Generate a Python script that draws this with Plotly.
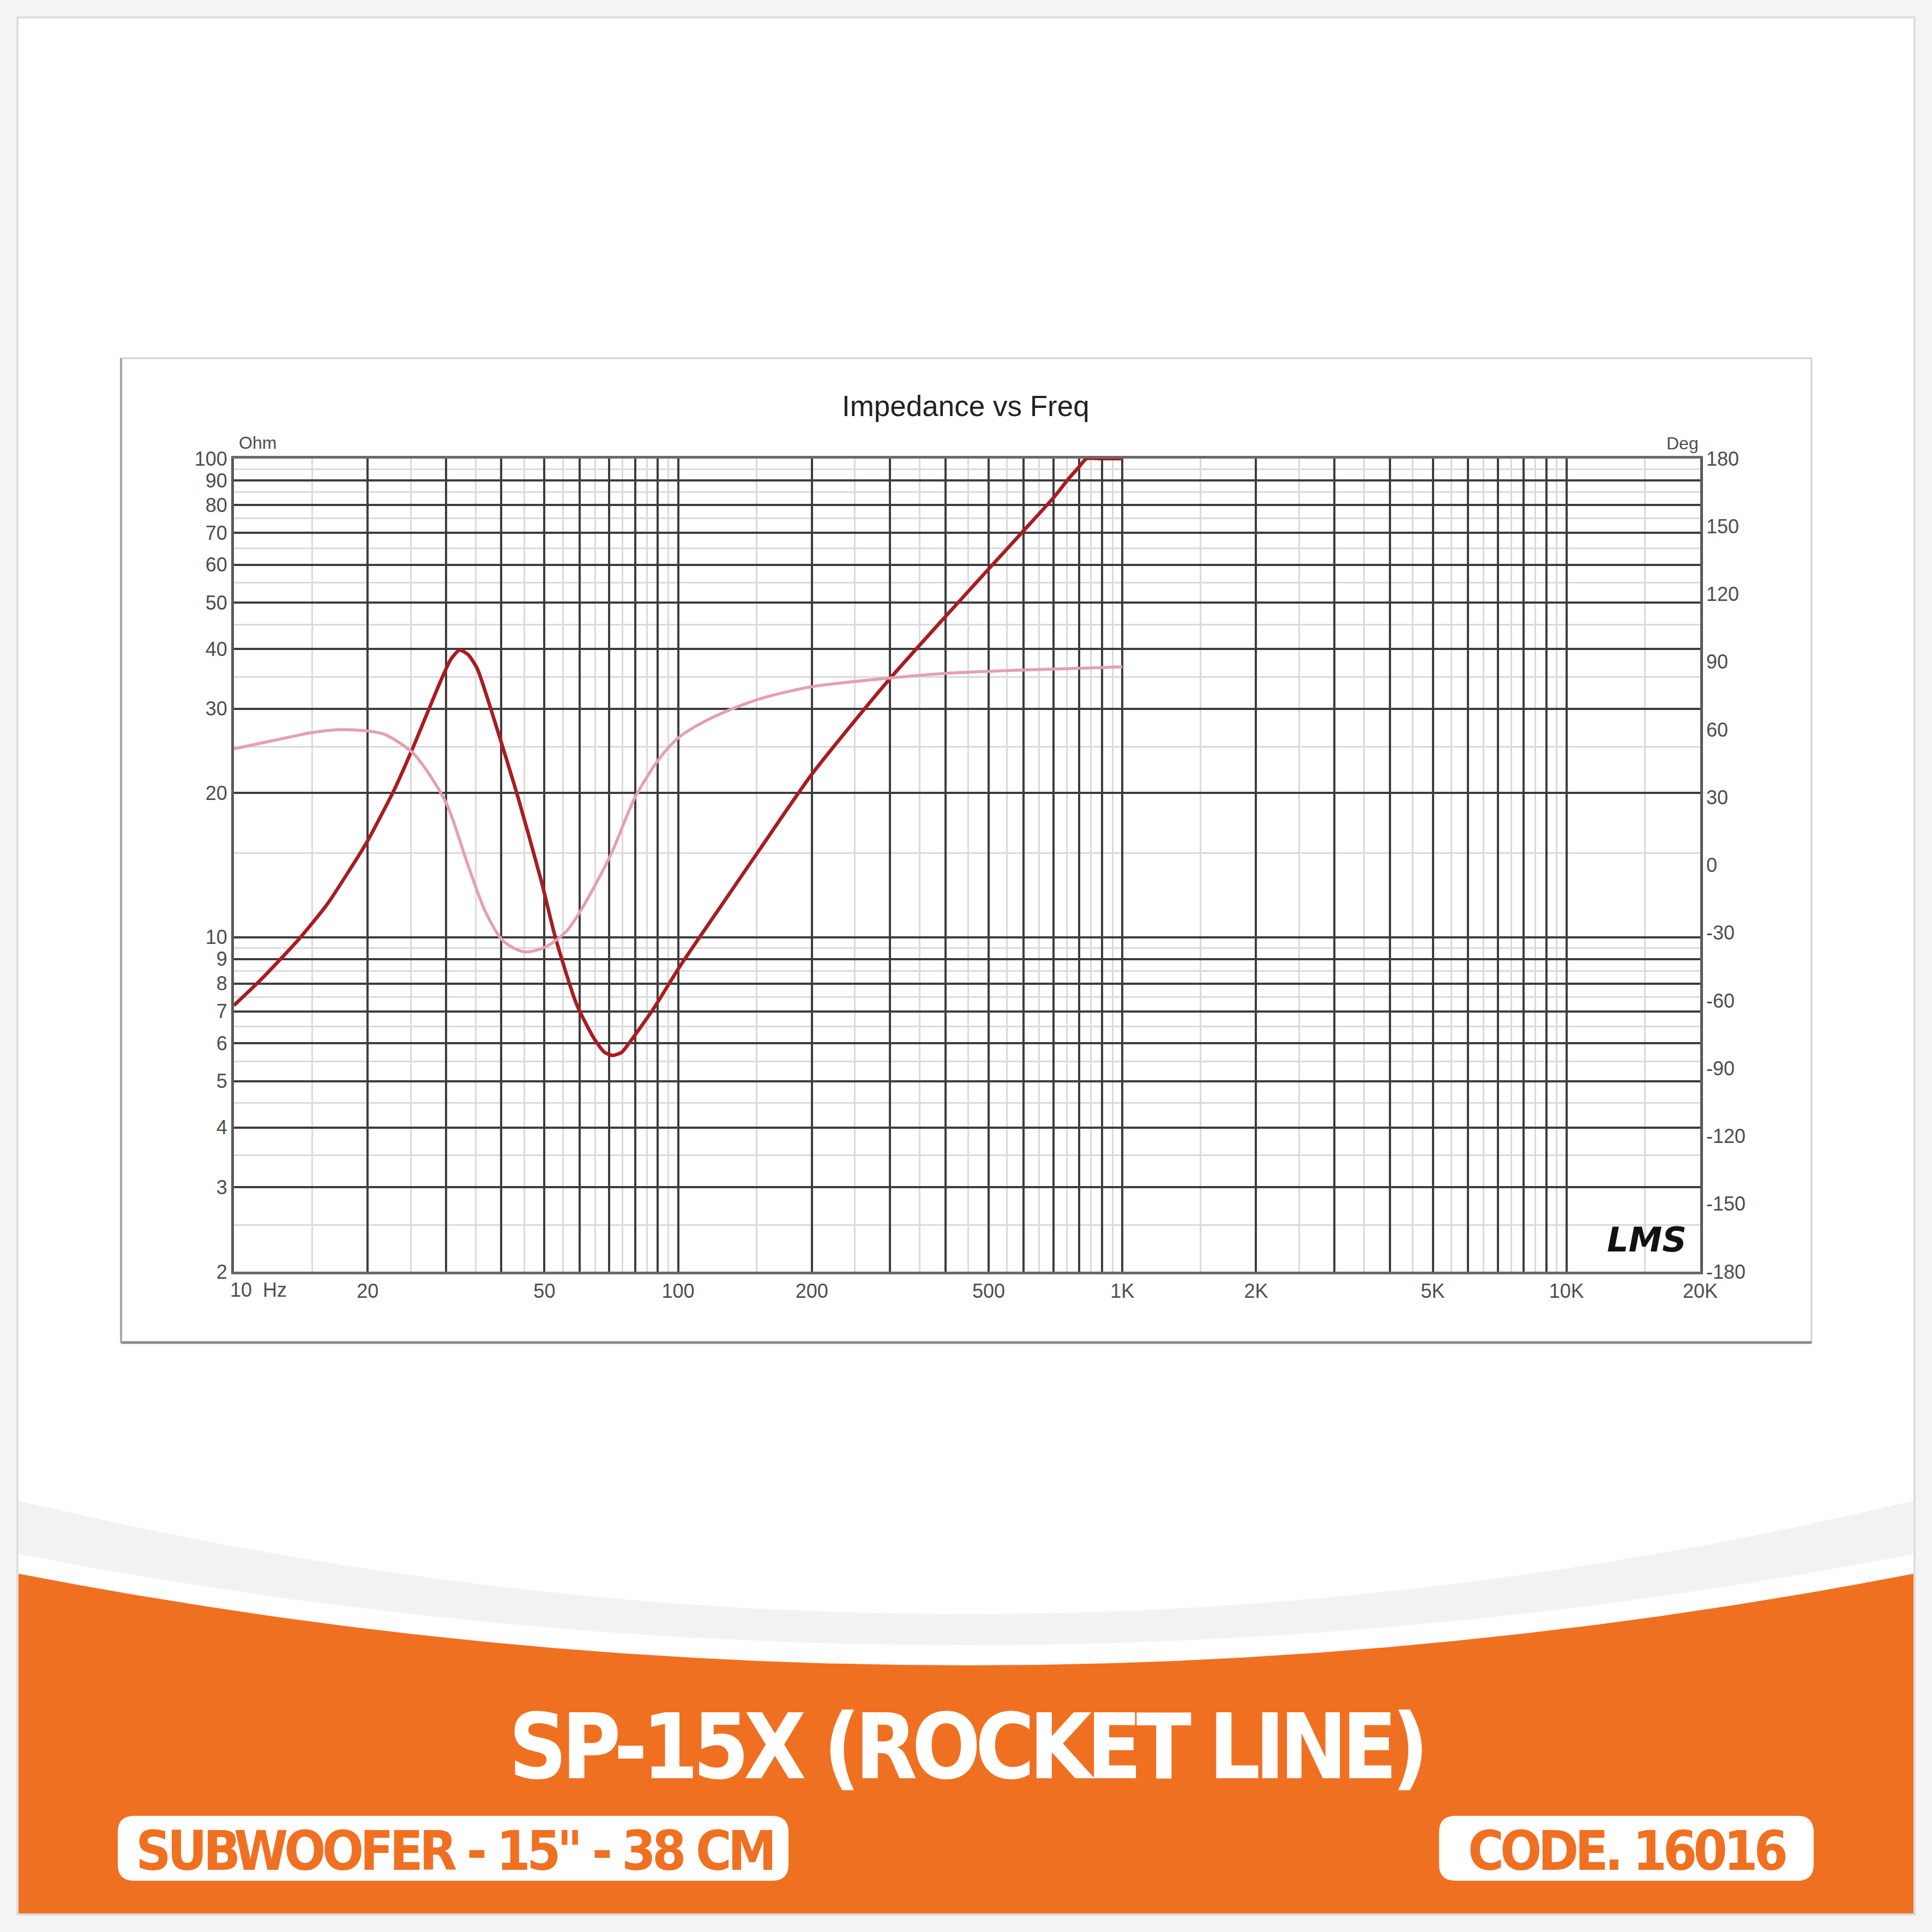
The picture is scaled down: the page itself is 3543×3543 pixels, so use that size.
import plotly.graph_objects as go

W = H = 3543

# ---------------- data ----------------
freq_impedance = [10, 11.5, 14, 16.2, 18.2, 20, 23, 25.3, 29.2, 30.8, 32.2, 33.7, 35.3,
                  38.9, 43.4, 49.2, 52.9, 59, 64.6, 68.2, 71.3, 74.7, 77.3, 87.7, 101,
                  126, 153, 200, 295, 400, 496, 598, 701, 760, 800, 830, 900, 1000]
impedance_ohm = [7.2, 8.15, 9.9, 11.7, 13.8, 15.9, 20.4, 24.9, 34.3, 38.1, 39.8, 38.9, 36.4,
                 27.7, 19.9, 13.1, 10.0, 7.26, 6.15, 5.75, 5.66, 5.75, 5.98, 7.05, 8.7,
                 11.76, 15.3, 21.9, 34.1, 46.8, 58.3, 70.5, 83, 91.2, 96.2, 100, 100, 100]

freq_phase = [10, 13.2, 14.8, 17.3, 20, 21.9, 25.3, 28.1, 30.3, 33.7, 36.9, 40.4, 45,
              50.2, 55.9, 61.1, 70.6, 80, 91, 101, 117, 135.5, 155, 200, 295, 400, 598, 1000]
phase_deg = [51.5, 56.5, 58.5, 60, 59.4, 57.8, 49.6, 37.5, 26, -0.4, -21, -33.6, -38.4,
             -36.3, -29.5, -18.4, 4.8, 30, 47.5, 57, 64.5, 70, 74, 79, 82.7,
             84.9, 86.4, 87.8]

x_label_vals = [20, 50, 100, 200, 500, 1000, 2000, 5000, 10000, 20000]
x_label_text = ["20", "50", "100", "200", "500", "1K", "2K", "5K", "10K", "20K"]
y_label_vals = [2, 3, 4, 5, 6, 7, 8, 9, 10, 20, 30, 40, 50, 60, 70, 80, 90, 100]
y_label_text = ["2", "3", "4", "5", "6", "7", "8", "9", "10", "20", "30", "40", "50",
                "60", "70", "80", "90", "100"]
deg_vals = [-180, -150, -120, -90, -60, -30, 0, 30, 60, 90, 120, 150, 180]
deg_text = ["-180", "-150", "-120", "-90", "-60", "-30", "0", "30", "60", "90", "120",
            "150", "180"]

# grid positions (dark at integer mantissas, light at half steps)
x_major = [m * 10 ** d for d in range(1, 5) for m in range(1, 10)] + [20000]
x_minor = [(m + 0.5) * 10 ** d for d in range(1, 5) for m in range(1, 10)
           if (m + 0.5) * 10 ** d < 20000]
x_text = [x_label_text[x_label_vals.index(v)] if v in x_label_vals else "" for v in x_major]
y_minor = [m + 0.5 for m in range(2, 10)] + [(m + 0.5) * 10 for m in range(1, 10)]


def px(x):
    return x / W


def py(y):
    return 1 - y / H


def P(x, y):
    return f"{px(x):.5f},{py(y):.5f}"


def rounded(x0, y0, x1, y1, r):
    return (f"M {P(x0 + r, y0)} L {P(x1 - r, y0)} Q {P(x1, y0)} {P(x1, y0 + r)} "
            f"L {P(x1, y1 - r)} Q {P(x1, y1)} {P(x1 - r, y1)} L {P(x0 + r, y1)} "
            f"Q {P(x0, y1)} {P(x0, y1 - r)} L {P(x0, y0 + r)} Q {P(x0, y0)} {P(x0 + r, y0)} Z")


def arc_fill(y_edge, y_ctrl, xl=34, xr=3509, yb=3509):
    return (f"M {P(xl, y_edge)} Q {P((xl + xr) / 2, y_ctrl)} {P(xr, y_edge)} "
            f"L {P(xr, yb)} L {P(xl, yb)} Z")


ORANGE = "#F07022"
GRID_DARK = "#3d3d3d"
GRID_LIGHT = "#dadada"
TICKFONT = dict(family="Liberation Sans, Arial, sans-serif", size=36, color="#4d4d4d")
BIGFONT = "DejaVu Sans Condensed, DejaVu Sans, sans-serif"

fig = go.Figure()
fig.add_trace(go.Scatter(x=freq_phase, y=phase_deg, yaxis="y2", mode="lines",
                         line=dict(color="#e3a0b1", width=5.5, shape="spline", smoothing=0.8),
                         hoverinfo="skip", showlegend=False))
fig.add_trace(go.Scatter(x=freq_impedance, y=impedance_ohm, mode="lines",
                         line=dict(color="#a81c22", width=6.5, shape="spline", smoothing=0.6),
                         hoverinfo="skip", showlegend=False))

shapes = [
    # card
    dict(type="rect", xref="paper", yref="paper", x0=px(32), x1=px(3511), y0=py(3511), y1=py(32),
         fillcolor="white", line=dict(color="#d6d6d6", width=3), layer="below"),
    # bottom decoration
    dict(type="path", xref="paper", yref="paper", path=arc_fill(2752, 3168),
         fillcolor="#f2f2f2", line=dict(width=0), layer="below"),
    dict(type="path", xref="paper", yref="paper", path=arc_fill(2850, 3184),
         fillcolor="white", line=dict(width=0), layer="below"),
    dict(type="path", xref="paper", yref="paper", path=arc_fill(2886, 3222),
         fillcolor=ORANGE, line=dict(width=0), layer="below"),
    dict(type="path", xref="paper", yref="paper", path=rounded(216, 3330, 1446, 3449, 30),
         fillcolor="white", line=dict(width=0), layer="below"),
    dict(type="path", xref="paper", yref="paper", path=rounded(2639, 3330, 3326, 3449, 30),
         fillcolor="white", line=dict(width=0), layer="below"),
    # chart frame
    dict(type="rect", xref="paper", yref="paper", x0=px(222), x1=px(3322), y0=py(2462), y1=py(657),
         fillcolor="white", line=dict(color="#d0d0d0", width=3), layer="below"),
    dict(type="line", xref="paper", yref="paper", x0=px(222), x1=px(3322), y0=py(2462), y1=py(2462),
         line=dict(color="#8c8c8c", width=5), layer="below"),
    dict(type="line", xref="paper", yref="paper", x0=px(222), x1=px(222), y0=py(2462), y1=py(657),
         line=dict(color="#a6a6a6", width=4), layer="below"),
]

annotations = [
    dict(text="Impedance vs Freq", x=px(1771), y=py(744), xref="paper", yref="paper",
         showarrow=False, xanchor="center", yanchor="middle",
         font=dict(family="Liberation Sans, Arial, sans-serif", size=53, color="#222222")),
    dict(text="Ohm", x=px(436), y=py(812), xref="paper", yref="paper", showarrow=False,
         xanchor="left", yanchor="middle", font=dict(TICKFONT, size=32)),
    dict(text="Deg", x=px(3117), y=py(813), xref="paper", yref="paper", showarrow=False,
         xanchor="right", yanchor="middle", font=dict(TICKFONT, size=32)),
    dict(text="10  Hz", x=px(420), y=py(2365), xref="paper", yref="paper", showarrow=False,
         xanchor="left", yanchor="middle", font=TICKFONT),
    dict(text="<b><i>LMS</i></b>", x=px(3020), y=py(2273), xref="paper", yref="paper",
         showarrow=False, xanchor="center", yanchor="middle",
         font=dict(family="DejaVu Sans, sans-serif", size=62, color="#111111")),
    dict(text="<span style=\"letter-spacing:-10px\"><b>SP-15X (ROCKET LINE)</b></span>",
         x=px(1771), y=py(3204), xref="paper", yref="paper",
         showarrow=False, xanchor="center", yanchor="middle",
         font=dict(family=BIGFONT, size=165, color="white")),
    dict(text="<span style=\"letter-spacing:-7px\"><b>SUBWOOFER - 15\" - 38 CM</b></span>",
         x=px(833), y=py(3394), xref="paper", yref="paper",
         showarrow=False, xanchor="center", yanchor="middle",
         font=dict(family=BIGFONT, size=100, color=ORANGE)),
    dict(text="<span style=\"letter-spacing:-7px\"><b>CODE. 16016</b></span>",
         x=px(2983), y=py(3394), xref="paper", yref="paper",
         showarrow=False, xanchor="center", yanchor="middle",
         font=dict(family=BIGFONT, size=100, color=ORANGE)),
]

fig.update_layout(
    autosize=True,
    margin=dict(l=0, r=0, t=0, b=0, pad=0),
    paper_bgcolor="#f4f4f4", plot_bgcolor="white",
    shapes=shapes, annotations=annotations,
    xaxis=dict(type="log", range=[1, 4.30103], domain=[px(429), px(3118)],
               tickmode="array", tickvals=x_major, ticktext=x_text, ticks="",
               tickfont=TICKFONT, ticklabelstandoff=0, automargin=False,
               showgrid=True, gridcolor=GRID_DARK, gridwidth=3.5,
               minor=dict(tickvals=x_minor, showgrid=True, gridcolor=GRID_LIGHT, gridwidth=3, ticks=""),
               showline=True, linecolor="#6a6a6a", linewidth=5, mirror=True,
               zeroline=False, fixedrange=True),
    yaxis=dict(type="log", range=[0.30103, 2], domain=[py(2332), py(841)],
               tickmode="array", tickvals=y_label_vals, ticktext=y_label_text, ticks="",
               tickfont=TICKFONT, ticklabelstandoff=0, automargin=False,
               showgrid=True, gridcolor=GRID_DARK, gridwidth=3.5,
               minor=dict(tickvals=y_minor, showgrid=True, gridcolor=GRID_LIGHT, gridwidth=3, ticks=""),
               showline=True, linecolor="#5a5a5a", linewidth=5, mirror=True,
               zeroline=False, fixedrange=True),
    yaxis2=dict(overlaying="y", side="right", range=[-180, 180],
                tickmode="array", tickvals=deg_vals, ticktext=deg_text, ticks="",
                tickfont=TICKFONT, ticklabelstandoff=10, automargin=False,
                showgrid=False, zeroline=False, showline=False, fixedrange=True),
)

fig.write_html(
    "out.html",
    config={"displayModeBar": False, "responsive": True},
    default_width="100vw", default_height="100vh",
    post_script=("document.documentElement.style.overflow='hidden';"
                 "document.body.style.margin='0';document.body.style.overflow='hidden';"
                 "window.dispatchEvent(new Event('resize'));"),
)
